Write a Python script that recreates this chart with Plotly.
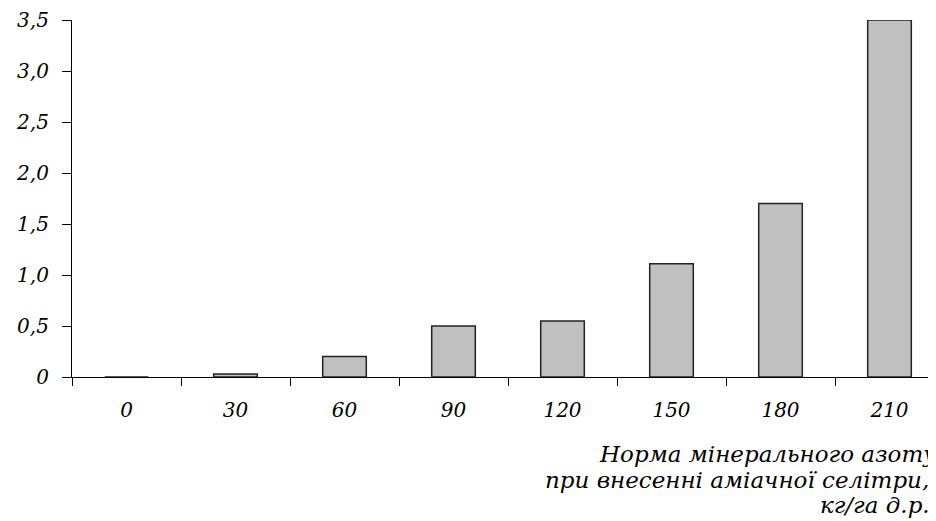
import plotly.graph_objects as go

categories = ["0", "30", "60", "90", "120", "150", "180", "210"]
values = [0.0, 0.03, 0.2, 0.5, 0.55, 1.11, 1.7, 3.5]
y_tickvals = [0, 0.5, 1.0, 1.5, 2.0, 2.5, 3.0, 3.5]
y_ticktext = ["0", "0,5", "1,0", "1,5", "2,0", "2,5", "3,0", "3,5"]
title_lines = ["Норма мінерального азоту,", "при внесенні аміачної селітри,", "кг/га д.р."]

FONT = "DejaVu Serif"

fig = go.Figure()
fig.add_trace(go.Bar(
    x=categories, y=values, width=0.4,
    marker=dict(color="#c0c0c0", line=dict(color="#222222", width=1.5)),
))

line_x = [0.602, 0.540, 0.855]
line_y = [-0.217, -0.288, -0.358]
annotations = [
    dict(text=t, xref="paper", yref="paper", x=lx, y=ly,
         xanchor="left", yanchor="middle", showarrow=False,
         font=dict(family=FONT, size=23, style="italic", color="black"))
    for t, lx, ly in zip(title_lines, line_x, line_y)
]

fig.update_layout(
    width=936, height=521,
    margin=dict(l=64, r=0, t=7, b=152),
    plot_bgcolor="white", paper_bgcolor="white",
    showlegend=False,
    font=dict(family=FONT, size=20, color="black", style="italic"),
    xaxis=dict(
        type="category", range=[-0.5, 7.5],
        showline=True, linecolor="black", linewidth=1.2,
        ticks="outside", tickson="boundaries", ticklen=8, tickcolor="black",
        ticklabelstandoff=15, showgrid=False,
        tickfont=dict(family=FONT, size=20, style="italic", color="black"),
    ),
    yaxis=dict(
        range=[0, 3.5], tickvals=y_tickvals, ticktext=y_ticktext,
        showline=True, linecolor="black", linewidth=1.2,
        ticks="outside", ticklen=9, tickcolor="black",
        ticklabelstandoff=9, showgrid=False, zeroline=False,
        ticklabeloverflow="allow",
        tickfont=dict(family=FONT, size=20, style="italic", color="black"),
    ),
    annotations=annotations,
)

fig.write_html("out.html")
